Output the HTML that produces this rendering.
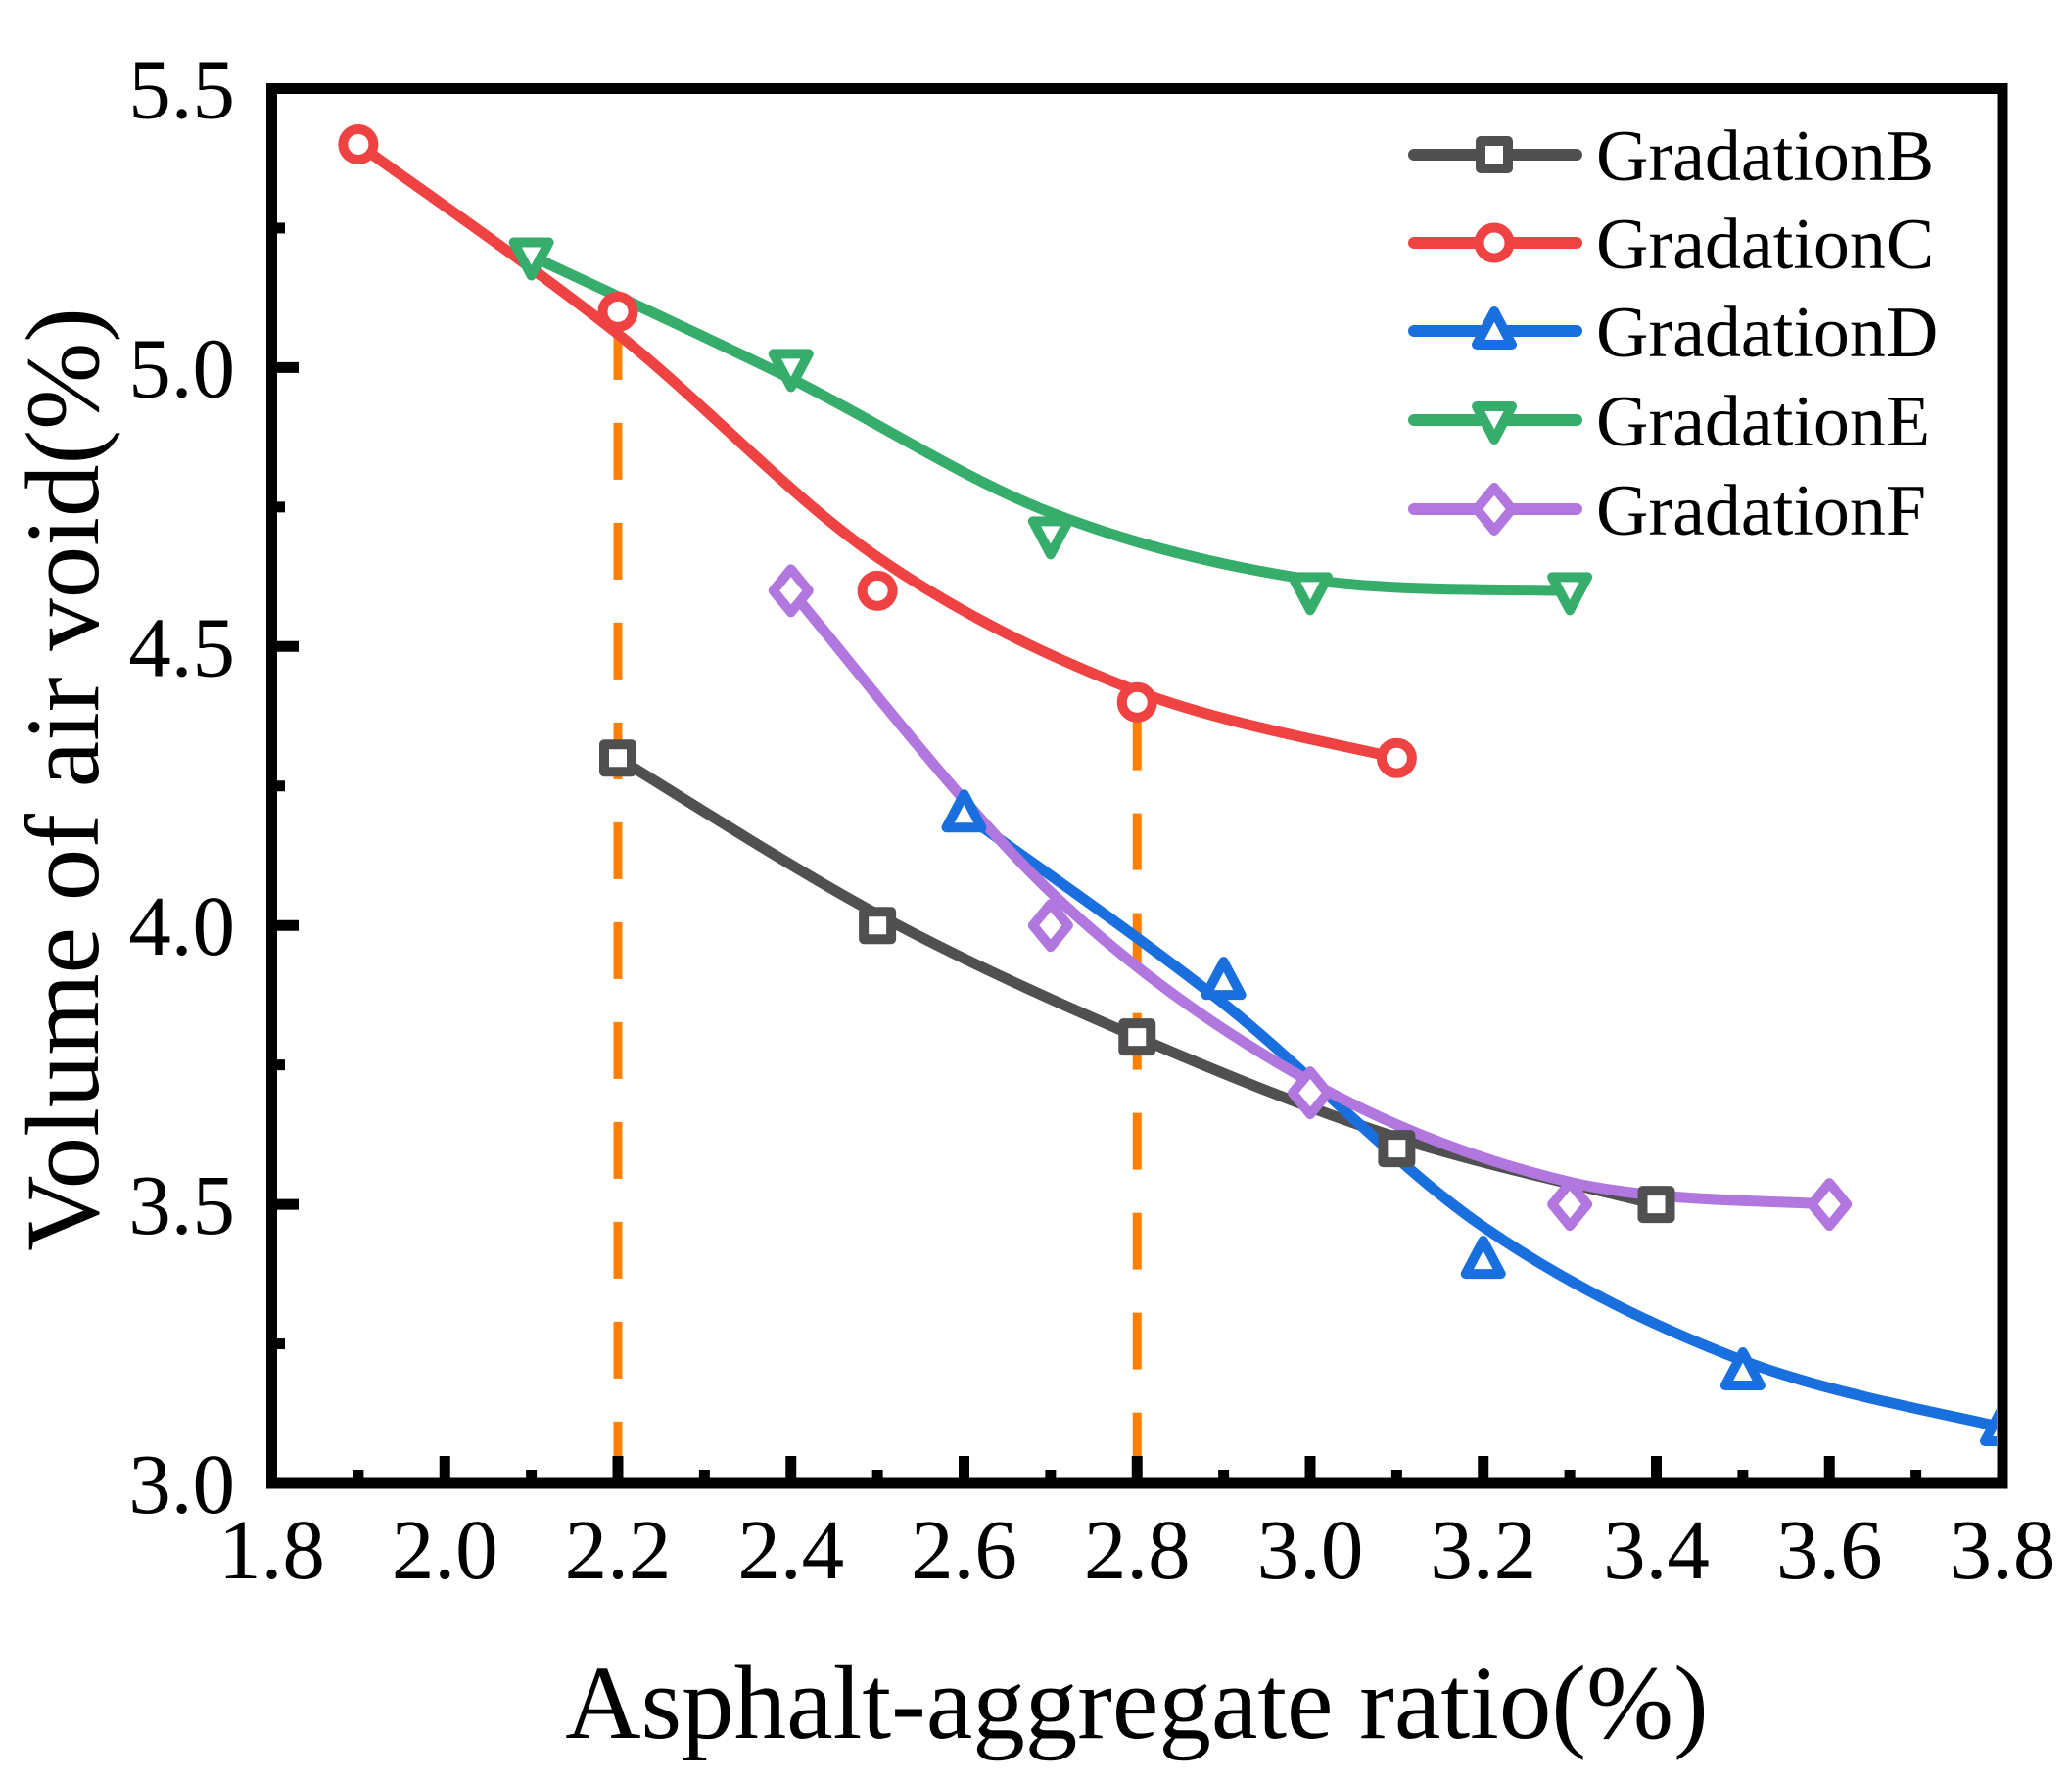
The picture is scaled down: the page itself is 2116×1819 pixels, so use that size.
<!DOCTYPE html>
<html><head><meta charset="utf-8"><style>
html,body{margin:0;padding:0;background:#fff;}
svg{display:block;}
text{font-family:"Liberation Serif","Times New Roman",serif;fill:#000;}
</style></head><body>
<svg id="s" width="2116" height="1819" viewBox="0 0 2116 1819" xmlns="http://www.w3.org/2000/svg">
<defs><clipPath id="c"><rect x="283" y="96" width="1756" height="1413"/></clipPath></defs>
<g id="plot" clip-path="url(#c)"></g>
<g id="axes"></g>
<text x="1161" y="1775" font-size="107" text-anchor="middle">Asphalt-aggregate ratio(%)</text>
<text transform="translate(100,796) rotate(-90)" font-size="107" text-anchor="middle">Volume of air void(%)</text>
<g id="leg"></g>
</svg>
<script>
const NS="http://www.w3.org/2000/svg";
const X=v=>277.5+(v-1.8)*883.75, Y=v=>1515-(v-3.0)*569.8;
function el(p,t,a,txt){const e=document.createElementNS(NS,t);for(const k in a)e.setAttribute(k,a[k]);if(txt!=null)e.textContent=txt;p.appendChild(e);return e;}
const plot=document.getElementById('plot'),axes=document.getElementById('axes'),leg=document.getElementById('leg');
el(plot,'line',{x1:X(2.2),y1:Y(5.08),x2:X(2.2),y2:1515,stroke:'#FF8000','stroke-width':9,'stroke-dasharray':'58 44'});
el(plot,'line',{x1:X(2.8),y1:Y(4.38),x2:X(2.8),y2:1515,stroke:'#FF8000','stroke-width':9,'stroke-dasharray':'58 44'});
const S=[
 {n:'GradationB',c:'#505050',m:'sq',d:[[2.2,4.3],[2.5,4.0],[2.8,3.8],[3.1,3.6],[3.4,3.5]]},
 {n:'GradationC',c:'#EF4343',m:'ci',d:[[1.9,5.4],[2.2,5.1],[2.5,4.6],[2.8,4.4],[3.1,4.3]]},
 {n:'GradationD',c:'#1A6FDF',m:'tu',d:[[2.6,4.2],[2.9,3.9],[3.2,3.4],[3.5,3.2],[3.8,3.1]]},
 {n:'GradationE',c:'#37AD6B',m:'td',d:[[2.1,5.2],[2.4,5.0],[2.7,4.7],[3.0,4.6],[3.3,4.6]]},
 {n:'GradationF',c:'#B177DE',m:'di',d:[[2.4,4.6],[2.7,4.0],[3.0,3.7],[3.3,3.5],[3.6,3.5]]}
];
function curve(d){
 let p=d.map(q=>[X(q[0]),Y(q[1])]);
 let sm=p.map((q,i)=>{if(i==0||i==p.length-1)return q;return [q[0],0.2*p[i-1][1]+0.6*q[1]+0.2*p[i+1][1]];});
 let s='M'+sm[0][0]+','+sm[0][1];
 for(let i=0;i<sm.length-1;i++){
  const p0=sm[Math.max(0,i-1)],p1=sm[i],p2=sm[i+1],p3=sm[Math.min(sm.length-1,i+2)];
  const c1=[p1[0]+(p2[0]-p0[0])/6,p1[1]+(p2[1]-p0[1])/6],c2=[p2[0]-(p3[0]-p1[0])/6,p2[1]-(p3[1]-p1[1])/6];
  s+=` C${c1[0]},${c1[1]} ${c2[0]},${c2[1]} ${p2[0]},${p2[1]}`;
 }
 return s;
}
function marker(g,m,x,y,c){
 const a={fill:'#fff',stroke:c,'stroke-width':10,'stroke-linejoin':'round'};
 if(m=='sq')el(g,'rect',Object.assign({x:x-14,y:y-14,width:28,height:28},a));
 else if(m=='ci')el(g,'circle',Object.assign({cx:x,cy:y,r:15.5},a));
 else if(m=='tu')el(g,'polygon',Object.assign({points:`${x},${y-20} ${x+18},${y+14} ${x-18},${y+14}`},a));
 else if(m=='td')el(g,'polygon',Object.assign({points:`${x},${y+20} ${x+18},${y-14} ${x-18},${y-14}`},a));
 else el(g,'polygon',Object.assign({points:`${x},${y-22} ${x+18},${y} ${x},${y+22} ${x-18},${y}`},a));
}
S.forEach(s=>{el(plot,'path',{d:curve(s.d),fill:'none',stroke:s.c,'stroke-width':11,'stroke-linecap':'round'});});
S.forEach(s=>s.d.forEach(q=>marker(plot,s.m,X(q[0]),Y(q[1]),s.c)));
el(axes,'rect',{x:277.5,y:90.5,width:1767.5,height:1424.5,fill:'none',stroke:'#000','stroke-width':11});
for(let i=0;i<=20;i++){const v=1.8+i*0.1,x=X(v),maj=i%2==0;
 if(i>0&&i<20)el(axes,'line',{x1:x,y1:1510,x2:x,y2:maj?1487:1501,stroke:'#000','stroke-width':11});
 if(maj)el(axes,'text',{x:x,y:1612,'font-size':87,'text-anchor':'middle'},v.toFixed(1));}
for(let i=0;i<=10;i++){const v=3+i*0.25,y=Y(v),maj=i%2==0;
 if(i>0&&i<10)el(axes,'line',{x1:282,y1:y,x2:maj?305:291,y2:y,stroke:'#000','stroke-width':11});
 if(maj)el(axes,'text',{x:240,y:y+30,'font-size':87,'text-anchor':'end'},v.toFixed(1));}
const ly=[158,248,338,429,520];
S.forEach((s,i)=>{const y=ly[i];
 el(leg,'line',{x1:1444,y1:y,x2:1610,y2:y,stroke:s.c,'stroke-width':12,'stroke-linecap':'round'});
 marker(leg,s.m,1526,y,s.c);
 el(leg,'text',{x:1630,y:y+26,'font-size':74},s.n);});
</script>
</body></html>
